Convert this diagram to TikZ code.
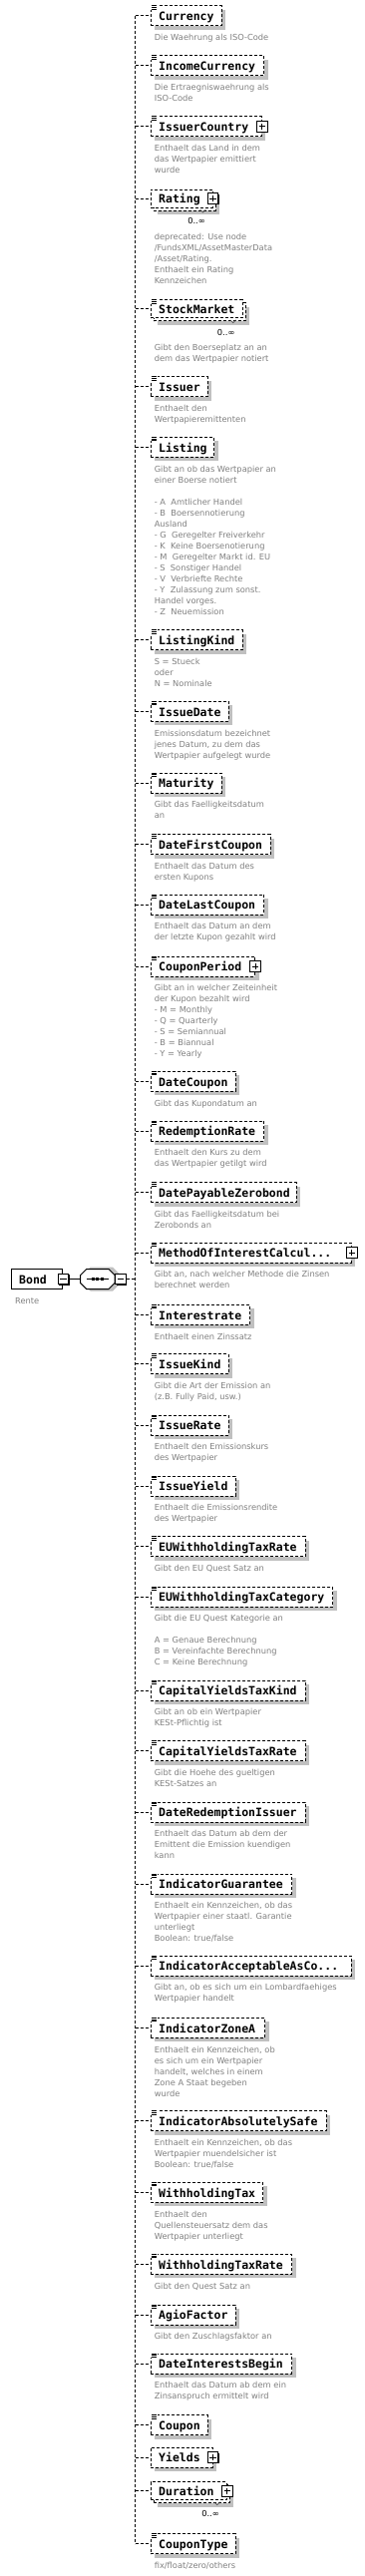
\documentclass[tikz,border=0pt]{standalone}
\usepackage{fontspec}
\newfontfamily\namefont{DejaVu Sans Mono}
\newfontfamily\descfam{DejaVu Sans}
\usetikzlibrary{shadows}
\definecolor{descgray}{RGB}{128,128,128}
\definecolor{shadowgray}{RGB}{192,192,192}
\tikzset{
  conn/.style={line width=1pt, dash pattern=on 3pt off 2pt},
  elemplain/.style={draw, line width=1pt, dash pattern=on 3pt off 2pt, fill=white,
    inner xsep=8pt, inner ysep=0pt, minimum height=20pt, align=left,
    text height=10.4pt, text depth=1pt,
    font=\namefont\bfseries\fontsize{11.5}{13}\selectfont},
  elembox/.style={elemplain, drop shadow={shadow xshift=4pt, shadow yshift=-4pt, fill=shadowgray, opacity=1}},
  bondbox/.style={draw, line width=1pt, fill=white, inner xsep=8pt, inner ysep=0pt,
    minimum height=20pt, align=left, text height=10.4pt, text depth=1pt,
    font=\namefont\bfseries\fontsize{11.5}{13}\selectfont},
  desc/.style={anchor=north west, inner sep=0pt, align=left, text=descgray,
    font=\descfam\fontsize{8.3}{11}\selectfont},
  countlbl/.style={inner sep=0pt, text=black, font=\descfam\fontsize{8.3}{10}\selectfont},
  plusbox/.style={draw, fill=white, line width=0.8pt, minimum size=10.5pt, inner sep=0pt,
    drop shadow={shadow xshift=1pt, shadow yshift=-1pt, fill=black, opacity=1},
    path picture={\draw[line width=0.8pt]
      ([xshift=-3.2pt]path picture bounding box.center) -- ([xshift=3.2pt]path picture bounding box.center)
      ([yshift=-3.2pt]path picture bounding box.center) -- ([yshift=3.2pt]path picture bounding box.center);}},
  minusbox/.style={draw, fill=white, line width=0.8pt, minimum size=10.5pt, inner sep=0pt,
    drop shadow={shadow xshift=1pt, shadow yshift=-1pt, fill=black, opacity=1},
    path picture={\draw[line width=0.8pt]
      ([xshift=-3.2pt]path picture bounding box.center) -- ([xshift=3.2pt]path picture bounding box.center);}},
  seqnode/.style={minimum width=34.3pt, minimum height=20pt, inner sep=0pt}
}
% single element box
\newcommand\el[4]{%
  \pgfmathsetmacro\tw{#3-166.7}%
  \node[elembox, text width=\tw pt, anchor=west] (#1) at (150.7,#2) {#4};
  \draw[conn] (spine |- #1.west) -- (#1.west);
}
% multiple-occurrence element box
\newcommand\elmulti[4]{%
  \pgfmathsetmacro\tw{#3-166.7}%
  \node[elembox, minimum height=18pt, text width=\tw pt, anchor=west] (#1-back) at (153.7,#2+3) {\phantom{#4}};
  \node[elemplain, minimum height=18pt, text width=\tw pt, anchor=west] (#1) at (150.7,#2) {#4};
  \draw[conn] (spine |- #1.west) -- (#1.west);
  \draw[line width=0.5pt, black!70] (#3-12,#2+11) -- (#3-9,#2+14) -- (#3-6,#2+11);
}
% annotation icon
\newcommand\ico[1]{%
  \begin{scope}[shift={(#1.north west)}]
    \fill[white] (-0.6,-0.8) rectangle (7,4.6);
    \draw[line width=0.7pt] (1.5,0.4) -- (6.2,0.4) (1.5,2.1) -- (6.2,2.1) (1.5,3.8) -- (6.2,3.8);
  \end{scope}}
\newcommand\plusb[1]{\node[plusbox] (#1-plus) at (#1.east) {};}
\newcommand\dsc[3]{\node[desc] (#1-d) at (154.6,#2+16.9) {\strut #3};}
\newcommand\dscm[3]{\node[desc] (#1-d) at (154.6,#2+33.4) {\strut #3};}

\begin{document}
\begin{tikzpicture}[x=1pt,y=-1pt]
\fill[white] (0,0) rectangle (366,2583);
\useasboundingbox (0,0) rectangle (366,2583);

\coordinate (spine) at (135.7,1282.5);

% ---- root element and sequence
\node[bondbox, text width=35.6pt, anchor=west] (bond) at (10.7,1282.5) {Bond};
\node[minusbox] (bondminus) at (bond.east) {};
\node[desc] (bond-d) at (15,1299.4) {\strut Rente};
\node[seqnode] (seq) at (97.85,1282.5) {};
\begin{scope}[shift={(seq.center)}]
  \fill[shadowgray] (-13.15,-6) -- (-7.15,-12) -- (15.15,-12) -- (21.15,-6) -- (21.15,6) -- (15.15,12) -- (-7.15,12) -- (-13.15,6) -- cycle;
  \filldraw[fill=white, line width=1pt] (-17.15,-4) -- (-11.15,-10) -- (11.15,-10) -- (17.15,-4) -- (17.15,4) -- (11.15,10) -- (-11.15,10) -- (-17.15,4) -- cycle;
  \draw[line width=1pt] (-11.2,0) -- (11.2,0);
  \fill (-6,-1.5) rectangle (-3,1.5);
  \fill (-1.5,-1.5) rectangle (1.5,1.5);
  \fill (3,-1.5) rectangle (6,1.5);
\end{scope}
\node[minusbox] (seqminus) at ([xshift=5.9pt]seq.east) {};
\draw[line width=1pt] (bondminus.east) -- (seq.west);
\draw[conn] (seqminus.east) -- (spine);

% ---- children
\el{currency}{15.7}{221.7}{Currency}\ico{currency}
\dsc{currency}{15.7}{Die Waehrung als ISO-Code}

\el{incomecur}{65.7}{264}{IncomeCurrency}\ico{incomecur}
\dsc{incomecur}{65.7}{Die Ertraegniswaehrung als\\ISO-Code}

\el{issuercountry}{126.7}{261.7}{IssuerCountry}\ico{issuercountry}\plusb{issuercountry}
\dsc{issuercountry}{126.7}{Enthaelt das Land in dem\\das Wertpapier emittiert\\wurde}

\elmulti{rating}{199}{212.5}{Rating}\plusb{rating}
\node[countlbl] (rating-n) at (197,221.7) {0..∞};
\dscm{rating}{199}{deprecated: Use node\\/FundsXML/AssetMasterData\\/Asset/Rating.\\Enthaelt ein Rating\\Kennzeichen}

\elmulti{stockmarket}{309.7}{242.7}{StockMarket}\ico{stockmarket}
\node[countlbl] (stockmarket-n) at (226.7,333.3) {0..∞};
\dscm{stockmarket}{309.7}{Gibt den Boerseplatz an an\\dem das Wertpapier notiert}

\el{issuer}{387.7}{207.7}{Issuer}\ico{issuer}
\dsc{issuer}{387.7}{Enthaelt den\\Wertpapieremittenten}

\el{listing}{448.3}{214.3}{Listing}\ico{listing}
\dsc{listing}{448.3}{Gibt an ob das Wertpapier an\\einer Boerse notiert\\[11pt]- A\ \ Amtlicher Handel\\- B\ \ Boersennotierung\\Ausland\\- G\ \ Geregelter Freiverkehr\\- K\ \ Keine Boersenotierung\\- M\ \ Geregelter Markt id. EU\\- S\ \ Sonstiger Handel\\- V\ \ Verbriefte Rechte\\- Y\ \ Zulassung zum sonst.\\Handel vorges.\\- Z\ \ Neuemission}

\el{listingkind}{641.7}{242.7}{ListingKind}\ico{listingkind}
\dsc{listingkind}{641.7}{S = Stueck\\oder\\N = Nominale}

\el{issuedate}{713.3}{228.7}{IssueDate}\ico{issuedate}
\dsc{issuedate}{713.3}{Emissionsdatum bezeichnet\\jenes Datum, zu dem das\\Wertpapier aufgelegt wurde}

\el{maturity}{785}{221.7}{Maturity}\ico{maturity}
\dsc{maturity}{785}{Gibt das Faelligkeitsdatum\\an}

\el{datefirstcoupon}{846.7}{270.7}{DateFirstCoupon}\ico{datefirstcoupon}
\dsc{datefirstcoupon}{846.7}{Enthaelt das Datum des\\ersten Kupons}

\el{datelastcoupon}{907}{264}{DateLastCoupon}\ico{datelastcoupon}
\dsc{datelastcoupon}{907}{Enthaelt das Datum an dem\\der letzte Kupon gezahlt wird}

\el{couponperiod}{969}{255}{CouponPeriod}\ico{couponperiod}\plusb{couponperiod}
\dsc{couponperiod}{969}{Gibt an in welcher Zeiteinheit\\der Kupon bezahlt wird\\- M = Monthly\\- Q = Quarterly\\- S = Semiannual\\- B = Biannual\\- Y = Yearly}

\el{datecoupon}{1084.3}{235.7}{DateCoupon}\ico{datecoupon}
\dsc{datecoupon}{1084.3}{Gibt das Kupondatum an}

\el{redemptionrate}{1134}{264}{RedemptionRate}\ico{redemptionrate}
\dsc{redemptionrate}{1134}{Enthaelt den Kurs zu dem\\das Wertpapier getilgt wird}

\el{datepayablezerobond}{1195.7}{296.7}{DatePayableZerobond}\ico{datepayablezerobond}
\dsc{datepayablezerobond}{1195.7}{Gibt das Faelligkeitsdatum bei\\Zerobonds an}

\el{methodofinterest}{1256}{351.7}{MethodOfInterestCalcul...}\ico{methodofinterest}\plusb{methodofinterest}
\dsc{methodofinterest}{1256}{Gibt an, nach welcher Methode die Zinsen\\berechnet werden}

\el{interestrate}{1318.3}{250}{Interestrate}\ico{interestrate}
\dsc{interestrate}{1318.3}{Enthaelt einen Zinssatz}

\el{issuekind}{1367.7}{228.7}{IssueKind}\ico{issuekind}
\dsc{issuekind}{1367.7}{Gibt die Art der Emission an\\(z.B. Fully Paid, usw.)}

\el{issuerate}{1429}{228.7}{IssueRate}\ico{issuerate}
\dsc{issuerate}{1429}{Enthaelt den Emissionskurs\\des Wertpapier}

\el{issueyield}{1490}{235.7}{IssueYield}\ico{issueyield}
\dsc{issueyield}{1490}{Enthaelt die Emissionsrendite\\des Wertpapier}

\el{euwtr}{1550.7}{305.7}{EUWithholdingTaxRate}\ico{euwtr}
\dsc{euwtr}{1550.7}{Gibt den EU Quest Satz an}

\el{euwtc}{1601}{333.3}{EUWithholdingTaxCategory}\ico{euwtc}
\dsc{euwtc}{1601}{Gibt die EU Quest Kategorie an\\[11pt]A = Genaue Berechnung\\B = Vereinfachte Berechnung\\C = Keine Berechnung}

\el{cytk}{1695}{305.7}{CapitalYieldsTaxKind}\ico{cytk}
\dsc{cytk}{1695}{Gibt an ob ein Wertpapier\\KESt-Pflichtig ist}

\el{cytr}{1755.7}{305.7}{CapitalYieldsTaxRate}\ico{cytr}
\dsc{cytr}{1755.7}{Gibt die Hoehe des gueltigen\\KESt-Satzes an}

\el{dri}{1817}{305.7}{DateRedemptionIssuer}\ico{dri}
\dsc{dri}{1817}{Enthaelt das Datum ab dem der\\Emittent die Emission kuendigen\\kann}

\el{indguarantee}{1889}{292}{IndicatorGuarantee}\ico{indguarantee}
\dsc{indguarantee}{1889}{Enthaelt ein Kennzeichen, ob das\\Wertpapier einer staatl. Garantie\\unterliegt\\Boolean: true/false}

\el{indacceptable}{1971}{351.7}{IndicatorAcceptableAsCo...}\ico{indacceptable}
\dsc{indacceptable}{1971}{Gibt an, ob es sich um ein Lombardfaehiges\\Wertpapier handelt}

\el{indzonea}{2033.3}{265}{IndicatorZoneA}\ico{indzonea}
\dsc{indzonea}{2033.3}{Enthaelt ein Kennzeichen, ob\\es sich um ein Wertpapier\\handelt, welches in einem\\Zone A Staat begeben\\wurde}

\el{indabs}{2126.7}{326.7}{IndicatorAbsolutelySafe}\ico{indabs}
\dsc{indabs}{2126.7}{Enthaelt ein Kennzeichen, ob das\\Wertpapier muendelsicher ist\\Boolean: true/false}

\el{wht}{2198.3}{263.3}{WithholdingTax}\ico{wht}
\dsc{wht}{2198.3}{Enthaelt den\\Quellensteuersatz dem das\\Wertpapier unterliegt}

\el{whtr}{2270.3}{292}{WithholdingTaxRate}\ico{whtr}
\dsc{whtr}{2270.3}{Gibt den Quest Satz an}

\el{agio}{2321}{235.7}{AgioFactor}\ico{agio}
\dsc{agio}{2321}{Gibt den Zuschlagsfaktor an}

\el{dib}{2370}{292}{DateInterestsBegin}\ico{dib}
\dsc{dib}{2370}{Enthaelt das Datum ab dem ein\\Zinsanspruch ermittelt wird}

\el{coupon}{2431.7}{207.7}{Coupon}\ico{coupon}

\el{yields}{2464}{212.5}{Yields}\plusb{yields}

\elmulti{duration}{2497.7}{226.7}{Duration}\plusb{duration}
\node[countlbl] (duration-n) at (211,2520.7) {0..∞};

\el{coupontype}{2550.7}{235.7}{CouponType}\ico{coupontype}
\dsc{coupontype}{2550.7}{fix/float/zero/others}

% ---- spine
\draw[conn] (spine |- currency.west) -- (spine |- coupontype.west);
\end{tikzpicture}
\end{document}
